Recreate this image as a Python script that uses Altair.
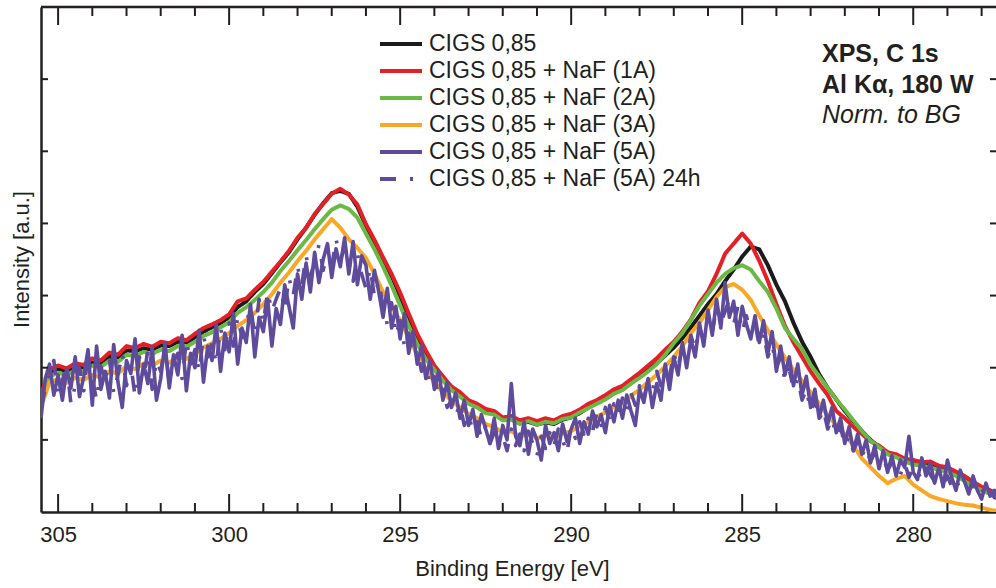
import altair as alt
import pandas as pd

# ---------------- data ----------------
energy = [round(305.5 - 0.25 * i, 3) for i in range(113)]        # smooth series grid
energy_fine = [round(305.5 - 0.125 * i, 3) for i in range(225)]  # noisy series grid

names = ["CIGS 0,85", "CIGS 0,85 + NaF (1A)", "CIGS 0,85 + NaF (2A)",
         "CIGS 0,85 + NaF (3A)", "CIGS 0,85 + NaF (5A)", "CIGS 0,85 + NaF (5A) 24h"]

black = [1.58,1.94,1.98,1.96,2.01,2.00,2.07,2.06,2.15,2.14,
         2.24,2.23,2.27,2.25,2.31,2.30,2.36,2.35,2.42,2.50,
         2.56,2.62,2.70,2.84,2.92,3.05,3.16,3.31,3.46,3.60,
         3.78,3.94,4.12,4.28,4.42,4.45,4.41,4.23,3.97,3.74,
         3.50,3.27,2.99,2.70,2.43,2.20,1.99,1.84,1.70,1.62,
         1.52,1.46,1.39,1.36,1.28,1.29,1.23,1.25,1.21,1.24,
         1.22,1.28,1.31,1.37,1.45,1.51,1.57,1.65,1.71,1.79,
         1.88,1.97,2.06,2.17,2.28,2.41,2.56,2.72,2.88,3.02,
         3.20,3.36,3.54,3.68,3.64,3.42,3.15,2.92,2.62,2.36,
         2.15,1.91,1.72,1.56,1.40,1.26,1.12,1.00,0.90,0.82,
         0.77,0.73,0.70,0.68,0.66,0.62,0.60,0.54,0.47,0.40,
         0.33,0.28,0.24]

red = [1.62,1.98,2.03,1.99,2.06,2.04,2.13,2.10,2.21,2.18,
       2.30,2.27,2.33,2.29,2.36,2.34,2.41,2.38,2.47,2.55,
       2.60,2.66,2.74,2.92,2.96,3.08,3.19,3.33,3.47,3.62,
       3.80,3.94,4.13,4.27,4.41,4.48,4.40,4.26,3.99,3.77,
       3.53,3.30,3.04,2.75,2.47,2.24,2.03,1.88,1.74,1.66,
       1.55,1.50,1.43,1.40,1.31,1.33,1.27,1.30,1.26,1.30,
       1.27,1.33,1.36,1.42,1.50,1.55,1.62,1.70,1.75,1.84,
       1.93,2.03,2.13,2.25,2.36,2.50,2.67,2.90,3.06,3.30,
       3.58,3.72,3.86,3.72,3.48,3.20,2.88,2.58,2.35,2.15,
       1.95,1.78,1.62,1.40,1.30,1.18,1.08,0.98,0.92,0.83,
       0.80,0.74,0.72,0.69,0.70,0.64,0.62,0.56,0.50,0.42,
       0.35,0.30,0.25]

green = [1.50,1.88,1.93,1.90,1.96,1.95,2.03,2.01,2.10,2.08,
         2.18,2.16,2.22,2.19,2.25,2.23,2.30,2.29,2.36,2.44,
         2.49,2.56,2.63,2.76,2.84,2.94,3.05,3.18,3.34,3.48,
         3.63,3.77,3.92,4.06,4.19,4.25,4.20,4.08,3.86,3.64,
         3.40,3.14,2.86,2.58,2.33,2.12,1.97,1.82,1.69,1.60,
         1.50,1.45,1.37,1.35,1.27,1.28,1.22,1.26,1.21,1.25,
         1.23,1.29,1.31,1.38,1.44,1.50,1.56,1.64,1.69,1.78,
         1.86,1.95,2.05,2.18,2.34,2.48,2.66,2.86,3.02,3.18,
         3.30,3.38,3.42,3.36,3.20,3.05,2.82,2.55,2.40,2.26,
         2.04,1.88,1.72,1.56,1.42,1.27,1.12,0.99,0.90,0.80,
         0.76,0.70,0.66,0.64,0.62,0.58,0.56,0.50,0.43,0.36,
         0.30,0.25,0.22]

orange = [1.45,1.80,1.84,1.79,1.86,1.83,1.90,1.86,1.95,1.92,
          2.02,1.98,2.06,2.03,2.10,2.07,2.15,2.12,2.20,2.28,
          2.34,2.40,2.48,2.58,2.66,2.76,2.88,3.02,3.18,3.32,
          3.48,3.62,3.78,3.92,4.06,3.94,3.78,3.66,3.52,3.30,
          3.05,2.84,2.66,2.42,2.18,1.98,1.80,1.66,1.54,1.45,
          1.36,1.30,1.22,1.18,1.10,1.12,1.05,1.08,1.02,1.06,
          1.03,1.09,1.12,1.19,1.25,1.32,1.38,1.46,1.52,1.61,
          1.70,1.80,1.90,2.02,2.15,2.30,2.48,2.62,2.80,2.98,
          3.12,3.16,3.08,2.94,2.72,2.52,2.32,2.14,1.97,1.82,
          1.66,1.50,1.34,1.20,1.08,0.92,0.74,0.62,0.50,0.40,
          0.46,0.50,0.38,0.30,0.22,0.18,0.15,0.12,0.10,0.09,
          0.06,0.03,0.01]

# noisy series, 8 readings per eV
purple = [1.30,1.85,2.05,1.62,1.90,1.55,1.98,1.72,
          2.15,1.60,1.88,2.25,1.48,2.30,1.70,1.95,
          1.58,2.32,1.80,1.45,2.10,1.92,2.40,1.65,
          2.05,1.78,2.28,1.55,1.85,2.35,1.72,2.18,
          1.90,2.45,1.68,2.20,2.00,2.52,1.80,2.30,
          2.10,2.60,1.95,2.48,2.22,2.75,2.05,2.55,
          2.35,2.88,2.15,2.70,2.50,2.95,2.30,2.82,
          2.60,3.15,2.85,2.55,3.30,2.95,3.45,3.05,
          3.60,3.18,3.50,3.72,3.25,3.65,3.40,3.80,
          3.30,3.75,3.15,3.55,3.42,2.95,3.35,3.05,
          2.70,3.10,2.55,2.85,2.40,2.75,2.20,2.50,
          2.05,2.30,1.85,2.10,1.70,1.95,1.55,1.80,
          1.45,1.65,1.30,1.55,1.20,1.42,1.05,1.35,
          1.15,0.95,1.30,0.88,1.20,1.00,1.78,1.05,
          0.92,1.25,0.80,1.15,1.00,0.72,1.20,0.95,
          1.10,0.85,1.22,0.98,1.15,1.30,0.95,1.25,
          1.08,1.40,1.18,1.35,1.10,1.48,1.25,1.55,
          1.30,1.62,1.40,1.20,1.70,1.52,1.85,1.45,
          1.78,1.55,2.05,1.70,2.15,1.90,2.35,2.00,
          2.40,2.15,2.62,2.30,2.80,2.45,2.95,2.55,
          3.18,2.70,2.92,2.45,2.85,2.60,2.40,2.72,
          2.35,2.65,2.20,2.50,1.95,2.30,1.90,2.15,
          1.75,2.05,1.62,1.88,1.45,1.70,1.30,1.55,
          1.22,1.45,1.10,1.30,0.95,1.18,0.85,1.08,
          0.80,1.00,0.68,0.92,0.60,0.85,0.55,0.78,
          0.50,0.72,0.62,1.05,0.55,0.45,0.75,0.50,
          0.68,0.40,0.62,0.35,0.72,0.48,0.30,0.58,
          0.42,0.25,0.50,0.30,0.18,0.40,0.22,0.30,
          0.15]

purple_24h = [1.45,1.70,1.95,2.10,1.60,1.82,2.05,1.50,
              1.75,2.00,1.68,2.18,1.85,1.55,2.02,1.80,
              2.12,1.65,1.90,2.20,1.75,2.05,1.60,2.15,
              1.85,2.25,1.70,2.10,1.95,2.30,1.78,2.08,
              2.20,1.85,2.38,2.05,2.25,1.95,2.45,2.15,
              2.35,2.05,2.55,2.25,2.62,2.30,2.70,2.42,
              2.60,2.85,2.45,2.95,2.62,3.05,2.78,2.95,
              3.10,2.80,3.25,3.00,3.40,3.15,3.55,3.28,
              3.45,3.70,3.35,3.62,3.40,3.78,3.50,3.65,
              3.45,3.20,3.58,3.30,3.10,3.38,2.98,3.20,
              2.85,2.60,2.90,2.45,2.65,2.30,2.48,2.15,
              2.25,1.95,2.05,1.75,1.88,1.60,1.70,1.45,
              1.55,1.35,1.48,1.20,1.35,1.12,1.25,1.02,
              1.18,0.95,1.10,0.90,1.05,0.85,1.15,0.92,
              1.08,0.85,1.12,0.95,0.78,1.05,0.88,1.10,
              0.92,1.15,1.00,0.82,1.18,1.02,1.25,1.08,
              1.30,1.12,1.38,1.20,1.45,1.28,1.50,1.35,
              1.58,1.40,1.65,1.48,1.75,1.58,1.82,1.68,
              1.95,1.75,2.05,1.88,2.20,2.00,2.30,2.12,
              2.45,2.25,2.55,2.38,2.70,2.50,2.82,2.62,
              2.78,2.95,2.60,2.85,2.50,2.72,2.45,2.62,
              2.30,2.48,2.15,2.32,2.00,2.15,1.82,1.98,
              1.70,1.85,1.55,1.70,1.40,1.55,1.28,1.42,
              1.15,1.30,1.05,1.18,0.92,1.05,0.85,0.98,
              0.78,0.90,0.70,0.82,0.62,0.75,0.58,0.68,
              0.60,0.52,0.68,0.48,0.62,0.55,0.45,0.60,
              0.52,0.42,0.58,0.38,0.50,0.35,0.45,0.32,
              0.40,0.30,0.38,0.25,0.32,0.22,0.28,0.20,
              0.18]

series_values = [black, red, green, orange, purple, purple_24h]
series_grid = [energy, energy, energy, energy, energy_fine, energy_fine]

x_major = [305, 300, 295, 290, 285, 280]
x_minor = [278, 279, 281, 282, 283, 284, 286, 287, 288, 289, 291, 292, 293,
           294, 296, 297, 298, 299, 301, 302, 303, 304]
y_ticks = [1, 2, 3, 4, 5, 6]

annot_line1 = "XPS, C 1s"
annot_line2 = "Al K\u03b1, 180 W"
annot_line3 = "Norm. to BG"

# ---------------- styling ----------------
colors = ["#1b1b1b", "#e41f26", "#6ab845", "#f8a826", "#5f4b9b", "#5f4b9b"]
dashes = [[1, 0], [1, 0], [1, 0], [1, 0], [1, 0], [16, 14, 3, 14]]
ink = "#231f20"
FONT = "Liberation Sans"
W, H = 955, 505

rows = []
for name, grid, vals in zip(names, series_grid, series_values):
    for e, v in zip(grid, vals):
        rows.append({"E": e, "I": v, "series": name})
df = pd.DataFrame(rows)

xscale = alt.Scale(domain=[277.58, 305.5], reverse=True, nice=False, zero=False)
yscale = alt.Scale(domain=[0, 7], nice=False, zero=False)

xaxis = alt.Axis(values=x_major, ticks=False, grid=False, domainColor=ink,
                 domainWidth=2.5, labelFontSize=22, labelColor=ink, labelFont=FONT,
                 labelPadding=12, labelFlush=False, labelOverlap=False,
                 title="Binding Energy [eV]", orient="bottom",
                 titleFontSize=22, titleFont=FONT, titleFontWeight="normal",
                 titleColor=ink, titleY=46, titleX=471, titleBaseline="top")
yaxis = alt.Axis(labels=False, ticks=False, grid=False, domainColor=ink,
                 domainWidth=2.5, title="Intensity [a.u.]", titleFontSize=22,
                 titleFont=FONT, titleFontWeight="normal", titleColor=ink,
                 titleX=-13, titleY=252, titleBaseline="alphabetic", orient="left")

leg = alt.Legend(orient="none", legendX=348, legendY=25, title=None,
                 symbolType="M-2.1,0H2.1", symbolSize=400, symbolStrokeWidth=4,
                 labelFontSize=23, labelFont=FONT, labelColor=ink, labelOffset=16,
                 rowPadding=3, padding=0, labelLimit=0)

layers = []
for i, name in enumerate(names):
    layers.append(
        alt.Chart(df).transform_filter(alt.datum.series == name)
        .mark_line(strokeWidth=4 if i < 4 else 3.6, clip=True, strokeJoin="round")
        .encode(
            x=alt.X("E:Q", scale=xscale, axis=xaxis),
            y=alt.Y("I:Q", scale=yscale, axis=yaxis),
            color=alt.Color("series:N", scale=alt.Scale(domain=names, range=colors), legend=leg),
            strokeDash=alt.StrokeDash("series:N", scale=alt.Scale(domain=names, range=dashes), legend=leg),
        )
    )

maj = pd.DataFrame({"v": x_major})
mnr = pd.DataFrame({"v": x_minor})
yt = pd.DataFrame({"w": y_ticks})

def xticks(data, y0, y1):
    return alt.Chart(data).mark_rule(color=ink, strokeWidth=2).encode(
        x=alt.X("v:Q", scale=xscale, axis=xaxis), y=alt.value(y0), y2=alt.value(y1))

def yticks(x0, x1):
    return alt.Chart(yt).mark_rule(color=ink, strokeWidth=2).encode(
        y=alt.Y("w:Q", scale=yscale, axis=yaxis), x=alt.value(x0), x2=alt.value(x1))

ticks = [
    xticks(maj, H, H - 18), xticks(mnr, H, H - 9),
    xticks(maj, 0, 18), xticks(mnr, 0, 9),
    yticks(0, 7), yticks(W, W - 6),
]

top_border = alt.Chart(pd.DataFrame({"a": [0]})).mark_rule(color=ink, strokeWidth=2.5).encode(
    x=alt.value(0), x2=alt.value(W), y=alt.value(0))

def annot(txt, ypix, **kw):
    return alt.Chart(pd.DataFrame({"t": [txt]})).mark_text(
        align="left", baseline="alphabetic", font=FONT, fontSize=25, color=ink, **kw
    ).encode(text="t:N", x=alt.value(781), y=alt.value(ypix))

texts = [annot(annot_line1, 55, fontWeight="bold"),
         annot(annot_line2, 86, fontWeight="bold"),
         annot(annot_line3, 116, fontStyle="italic")]

chart = alt.layer(*layers, *ticks, top_border, *texts).properties(
    width=W, height=H, autosize="none",
    padding={"left": 41, "top": 7, "right": 0, "bottom": 76},
    background="white",
).configure_view(stroke=None)

chart.save("out.html", embed_options={"renderer": "svg", "actions": False})
